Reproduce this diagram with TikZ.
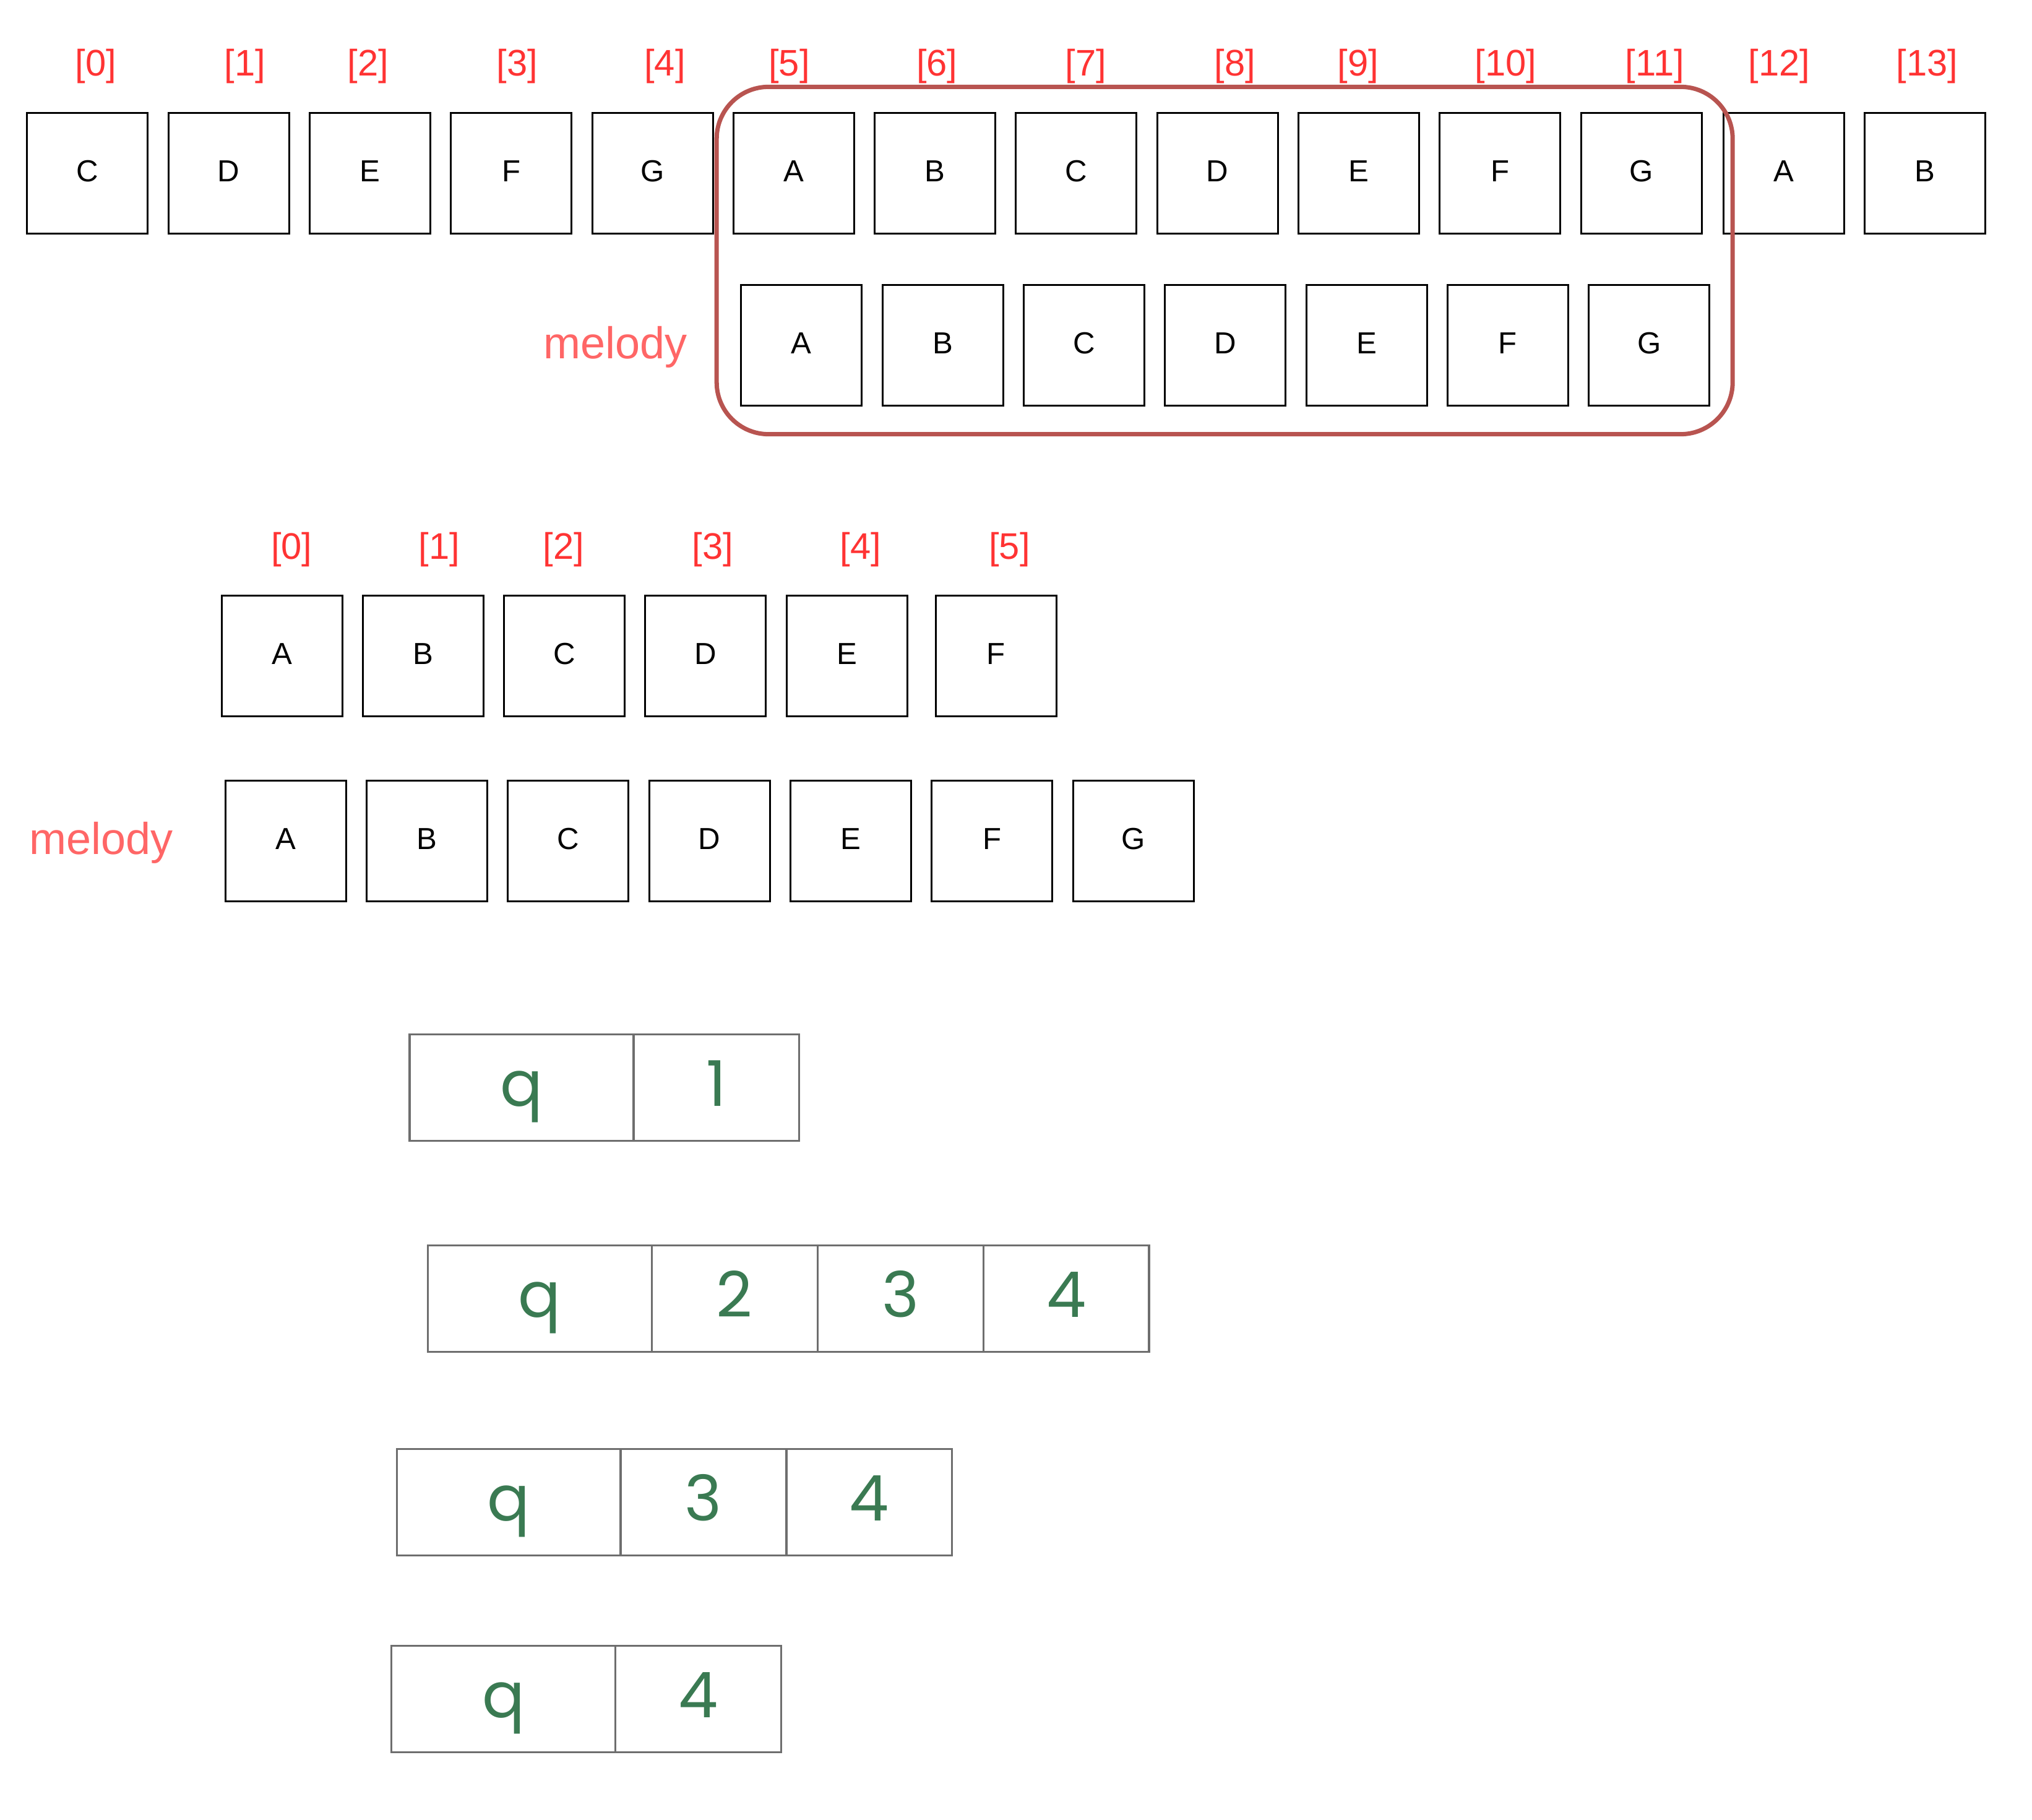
\documentclass[tikz,border=0pt]{standalone}
\usepackage{fontspec}
\setmainfont{Liberation Sans}
\newfontfamily\cellfont{Poppins}
\usetikzlibrary{positioning}
\definecolor{idxred}{RGB}{255, 51, 51}
\definecolor{melodyred}{RGB}{255, 102, 102}
\definecolor{framered}{RGB}{184, 84, 80}
\definecolor{qgreen}{RGB}{58, 122, 82}
\definecolor{cellgray}{RGB}{110, 110, 110}
\tikzstyle{notebox} = [rectangle, draw=black, line width=0.85pt, minimum width=1.95cm, minimum height=1.95cm,
                       inner sep=0pt, text height=0.4cm, text depth=0.13cm, font=\fontsize{14}{16}\selectfont]
\tikzstyle{idx} = [text=idxred, font=\fontsize{17}{20}\selectfont]
\tikzstyle{melodytag} = [text=melodyred, font=\fontsize{20.5}{24}\selectfont]
\tikzstyle{qcell} = [rectangle, draw=cellgray, line width=0.9pt, minimum width=3.62cm, minimum height=1.72cm,
                     inner sep=0pt, outer sep=0pt, text height=0.6cm, text depth=0cm,
                     text=qgreen, font=\cellfont\fontsize{29}{32}\selectfont]
\tikzstyle{numcell} = [qcell, minimum width=2.68cm]
\tikzstyle{window} = [draw=framered, line width=2pt, rounded corners=0.84cm]

\begin{document}
\begin{tikzpicture}[x=0.020944cm, y=-0.020944cm]
\useasboundingbox (0,0) rectangle (1568,1404);

% Scale row and indices
\node[idx] (i0) at (74, 51) {[0]};
\node[idx] (i1) at (189, 51) {[1]};
\node[idx] (i2) at (284, 51) {[2]};
\node[idx] (i3) at (399, 51) {[3]};
\node[idx] (i4) at (513, 51) {[4]};
\node[idx] (i5) at (609, 51) {[5]};
\node[idx] (i6) at (723, 51) {[6]};
\node[idx] (i7) at (838, 51) {[7]};
\node[idx] (i8) at (953, 51) {[8]};
\node[idx] (i9) at (1048, 51) {[9]};
\node[idx] (i10) at (1162, 51) {[10]};
\node[idx] (i11) at (1277, 51) {[11]};
\node[idx] (i12) at (1373, 51) {[12]};
\node[idx] (i13) at (1487, 51) {[13]};

\node[notebox] (s0) at (67.5, 133.5) {C};
\node[notebox] (s1) at (176.5, 133.5) {D};
\node[notebox] (s2) at (285.5, 133.5) {E};
\node[notebox] (s3) at (394.5, 133.5) {F};
\node[notebox] (s4) at (503.5, 133.5) {G};
\node[notebox] (s5) at (612.5, 133.5) {A};
\node[notebox] (s6) at (721.5, 133.5) {B};
\node[notebox] (s7) at (830.5, 133.5) {C};
\node[notebox] (s8) at (939.5, 133.5) {D};
\node[notebox] (s9) at (1048.5, 133.5) {E};
\node[notebox] (s10) at (1157.5, 133.5) {F};
\node[notebox] (s11) at (1266.5, 133.5) {G};
\node[notebox] (s12) at (1376.5, 133.5) {A};
\node[notebox] (s13) at (1485.5, 133.5) {B};

% Matching window
\draw[window] (553, 67) rectangle (1337, 335);
\node[melodytag] (tag1) at (475, 268) {melody};
\node[notebox] (m0) at (618.5, 266.5) {A};
\node[notebox] (m1) at (727.5, 266.5) {B};
\node[notebox] (m2) at (836.5, 266.5) {C};
\node[notebox] (m3) at (945.5, 266.5) {D};
\node[notebox] (m4) at (1054.5, 266.5) {E};
\node[notebox] (m5) at (1163.5, 266.5) {F};
\node[notebox] (m6) at (1272.5, 266.5) {G};

% Short scale vs melody
\node[idx] (j0) at (225, 424) {[0]};
\node[idx] (j1) at (339, 424) {[1]};
\node[idx] (j2) at (435, 424) {[2]};
\node[idx] (j3) at (550, 424) {[3]};
\node[idx] (j4) at (664, 424) {[4]};
\node[idx] (j5) at (779, 424) {[5]};

\node[notebox] (w0) at (217.5, 506) {A};
\node[notebox] (w1) at (326.5, 506) {B};
\node[notebox] (w2) at (435.5, 506) {C};
\node[notebox] (w3) at (544.5, 506) {D};
\node[notebox] (w4) at (653.5, 506) {E};
\node[notebox] (w5) at (768.5, 506) {F};

\node[melodytag] (tag2) at (78, 650) {melody};
\node[notebox] (v0) at (220.5, 649) {A};
\node[notebox] (v1) at (329.5, 649) {B};
\node[notebox] (v2) at (438.5, 649) {C};
\node[notebox] (v3) at (547.5, 649) {D};
\node[notebox] (v4) at (656.5, 649) {E};
\node[notebox] (v5) at (765.5, 649) {F};
\node[notebox] (v6) at (874.5, 649) {G};

% Queue states
\node[qcell] (qa) at (402.5, 839) {q};
\node[numcell, right=0pt of qa] (qa1) {1};

\node[qcell] (qb) at (416.5, 1002) {q};
\node[numcell, right=0pt of qb] (qb1) {2};
\node[numcell, right=0pt of qb1] (qb2) {3};
\node[numcell, right=0pt of qb2] (qb3) {4};

\node[qcell] (qc) at (392.5, 1159) {q};
\node[numcell, right=0pt of qc] (qc1) {3};
\node[numcell, right=0pt of qc1] (qc2) {4};

\node[qcell] (qd) at (388.5, 1311) {q};
\node[numcell, right=0pt of qd] (qd1) {4};

\end{tikzpicture}
\end{document}
